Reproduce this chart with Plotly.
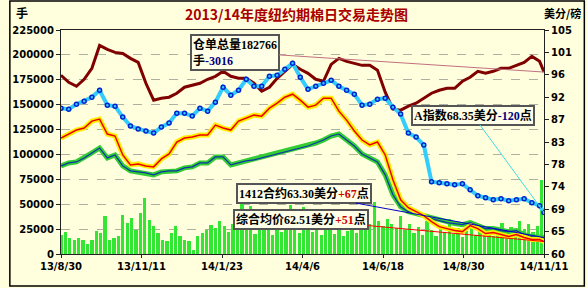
import pandas as pd
import plotly.graph_objects as go

# ---------------- data ----------------
open_interest = [179500,172500,168500,175500,186500,209500,205500,202500,201500,196500,
                 192500,171500,154500,156500,157500,161500,167500,169500,171500,175500,
                 178500,183500,178500,176500,176500,171500,163500,167500,176500,183500,
                 190500,185500,181500,175500,173500,190500,196500,193500,191500,189500,
                 189500,184500,162500,145500,144500,148500,151500,156500,161500,164500,
                 166500,166500,173500,177500,183500,181500,183500,186500,186500,189500,
                 192500,198500,193500,182766]
a_index = [89.3,89.1,90.1,90.7,91.5,92.9,89.9,89.7,87.5,85.7,
           85.1,84.7,84.3,85.5,86.3,88.3,88.3,87.7,89.3,88.7,
           90.5,93.5,91.9,92.9,95.1,93.7,93.7,95.7,95.9,97.1,
           98.3,95.5,93.1,93.7,94.3,94.9,93.7,92.9,92.1,89.9,
           90.1,91.1,91.3,89.5,88.1,84.3,83.5,81.9,74.5,74.3,
           74.1,73.9,74.1,72.9,71.7,71.3,70.9,71.1,70.7,70.9,
           71.1,70.3,69.7,68.35]
avg_price = [83.3,84.1,84.9,85.3,86.7,87.1,84.1,83.7,79.9,77.9,
             78.1,77.7,77.5,79.1,80.1,82.5,83.3,83.5,83.9,83.9,
             85.9,85.3,84.9,86.7,87.3,87.9,87.7,89.3,90.3,91.5,
             92.1,90.9,89.5,89.9,91.3,91.3,88.7,86.9,84.7,82.9,
             81.9,82.5,79.9,74.9,70.9,69.3,68.5,67.7,66.5,65.5,
             65.1,64.7,64.5,65.7,65.1,64.1,64.3,63.9,63.5,63.9,
             63.3,62.9,62.9,62.51]
c1412 = [77.7,78.3,78.5,79.3,80.3,81.3,79.3,79.9,77.7,76.7,
         76.5,76.3,75.9,76.5,76.7,76.7,77.3,77.5,78.3,78.3,
         79.5,79.5,77.9,78.3,78.7,78.9,79.3,79.7,80.1,80.5,
         80.9,81.3,81.7,82.3,82.9,83.7,84.1,82.9,81.7,80.1,
         79.3,78.5,75.9,71.9,69.5,68.5,68.1,67.7,67.1,66.7,
         66.3,66.1,65.9,66.3,65.7,65.1,65.1,64.7,64.5,64.7,
         63.9,63.5,63.3,63.30]
volume_k = [19,22,16,14,16,14,10,14,23,21,
            38,14,16,18,39,31,36,24,41,56,
            34,28,21,14,13,21,28,18,14,13,
            4,18,21,24,29,26,33,28,22,30,
            27,50,25,48,20,28,24,30,19,26,
            22,28,49,25,21,47,30,22,27,19,
            25,32,20,26,18,23,29,21,27,24,
            30,52,33,28,35,30,26,38,24,30,
            21,27,19,33,24,18,28,22,35,20,
            26,17,23,30,19,25,21,28,18,24,
            31,22,27,20,33,25,30,22,28,74]
volume = [v * 1000 for v in volume_k]

start_date = "2013-08-30"
end_date = "2014-11-11"
line_dates = list(pd.date_range(start_date, periods=len(open_interest) - 1, freq="7D")) + [pd.Timestamp(end_date)]
vol_dates = list(pd.date_range(start_date, periods=len(volume), freq="4D"))

x_tickvals = ["2013-08-30", "2013-11-11", "2014-01-23", "2014-04-06", "2014-06-18", "2014-08-30", "2014-11-11"]
x_ticktext = ["13/8/30", "13/11/11", "14/1/23", "14/4/6", "14/6/18", "14/8/30", "14/11/11"]
y2_tickvals = [60, 64.5, 69, 73.5, 78, 82.5, 87, 91.5, 96, 100.5, 105]
y2_ticktext = ["60", "65", "69", "74", "78", "83", "87", "92", "96", "101", "105"]

title_text = "2013/14年度纽约期棉日交易走势图"

# ---------------- figure ----------------
W, H = 587, 288
ML, MR, MT, MB = 53, 43, 30, 34
PW, PH = W - ML - MR, H - MT - MB
BG = "#FFFFDD"
TXT_FONT = "Liberation Serif, Noto Sans CJK SC, serif"
TICK_FONT = dict(family="DejaVu Sans, Verdana, sans-serif", size=10, color="#000000", weight="bold")

fig = go.Figure()

fig.add_trace(go.Bar(x=vol_dates, y=volume, marker=dict(color="#33E633", line=dict(width=0)),
                     width=3 * 86400000, yaxis="y", hoverinfo="skip"))

fig.add_trace(go.Scatter(x=line_dates, y=open_interest, mode="lines",
                         line=dict(color="#800000", width=3), yaxis="y"))

# 1412 contract: green band + blue line
fig.add_trace(go.Scatter(x=line_dates, y=c1412, mode="lines",
                         line=dict(color="#33CC33", width=5), yaxis="y2"))
fig.add_trace(go.Scatter(x=line_dates, y=c1412, mode="lines",
                         line=dict(color="#1133AA", width=1.2), yaxis="y2"))

# average price: yellow band + red line
fig.add_trace(go.Scatter(x=line_dates, y=avg_price, mode="lines",
                         line=dict(color="#FFEE00", width=5), yaxis="y2"))
fig.add_trace(go.Scatter(x=line_dates, y=avg_price, mode="lines",
                         line=dict(color="#EE0000", width=1.5), yaxis="y2"))

# A index: cyan band + blue markers
fig.add_trace(go.Scatter(x=line_dates, y=a_index, mode="lines+markers",
                         line=dict(color="#33CCFF", width=4),
                         marker=dict(symbol="circle-open", size=4, color="#0022CC", line=dict(width=1.5)),
                         yaxis="y2"))

def box_ann(text, x, y, yref, ax, ay, arrowcolor):
    return dict(x=x, y=y, xref="x", yref=yref, text=text, showarrow=True,
                ax=ax, ay=ay, arrowhead=0, arrowwidth=1, arrowcolor=arrowcolor,
                font=dict(family=TXT_FONT, size=12, color="#000000"),
                bgcolor="#FFFFE8", bordercolor="#555555", borderwidth=2, borderpad=1,
                align="left")

def paper_text(text, px, py, size, color):
    return dict(text=text, xref="paper", yref="paper",
                x=(px - ML) / PW, y=(H - MB - py) / PH, xanchor="center", yanchor="middle",
                showarrow=False, font=dict(family="Noto Sans CJK SC, sans-serif", size=size, color=color))

annotations = [
    box_ann("<b>仓单总量182766<br>手<span style='color:#000080'>-3016</span></b>",
            end_date, open_interest[-1], "y", -309, -20, "#C07080"),
    box_ann("<b>A指数68.35美分<span style='color:#000080'>-120</span>点</b>",
            end_date, a_index[-1], "y2", -71, -97, "#40DDDD"),
    box_ann("<b>1412合约63.30美分<span style='color:#CC0000'>+67</span>点</b>",
            end_date, c1412[-1], "y2", -240, -44, "#0000CC"),
    box_ann("<b>综合均价62.51美分<span style='color:#CC0000'>+51</span>点</b>",
            end_date, avg_price[-1], "y2", -243, -22, "#FF0000"),
    paper_text("<b>" + title_text + "</b>", 292, 14, 14, "#AA0000"),
    paper_text("<b>手</b>", 13, 13, 12, "#000000"),
    paper_text("<b>美分/磅</b>", 563, 13, 11, "#000000"),
]

shapes = [
    dict(type="rect", xref="paper", yref="paper",
         x0=(1 - ML) / PW, x1=(W - 2 - ML) / PW,
         y0=(H - MB - (H - 2)) / PH, y1=(H - MB - 1) / PH,
         line=dict(color="#000000", width=1.5), fillcolor="rgba(0,0,0,0)", layer="below"),
]

fig.update_layout(
    width=W, height=H, margin=dict(l=ML, r=MR, t=MT, b=MB, pad=0),
    paper_bgcolor=BG, plot_bgcolor=BG, showlegend=False, bargap=0,
    annotations=annotations, shapes=shapes,
    xaxis=dict(type="date", range=[start_date, end_date], tickvals=x_tickvals, ticktext=x_ticktext,
               tickfont=TICK_FONT, showgrid=False, showline=True, linecolor="#222222", linewidth=1,
               mirror=True, ticks="outside", ticklen=3, tickcolor="#222222", zeroline=False),
    yaxis=dict(range=[0, 225000], dtick=25000, tickformat="d", tickfont=TICK_FONT,
               showgrid=True, gridcolor="#B0B0A0", griddash="dash", gridwidth=1,
               showline=True, linecolor="#222222", linewidth=1, mirror=True,
               ticks="outside", ticklen=4, tickcolor="#222222", zeroline=False),
    yaxis2=dict(range=[60, 105], overlaying="y", side="right", tickvals=y2_tickvals,
                ticktext=y2_ticktext, tickfont=TICK_FONT, showgrid=False, showline=False,
                ticks="outside", ticklen=4, tickcolor="#222222", zeroline=False),
)

fig.write_html("out.html")
